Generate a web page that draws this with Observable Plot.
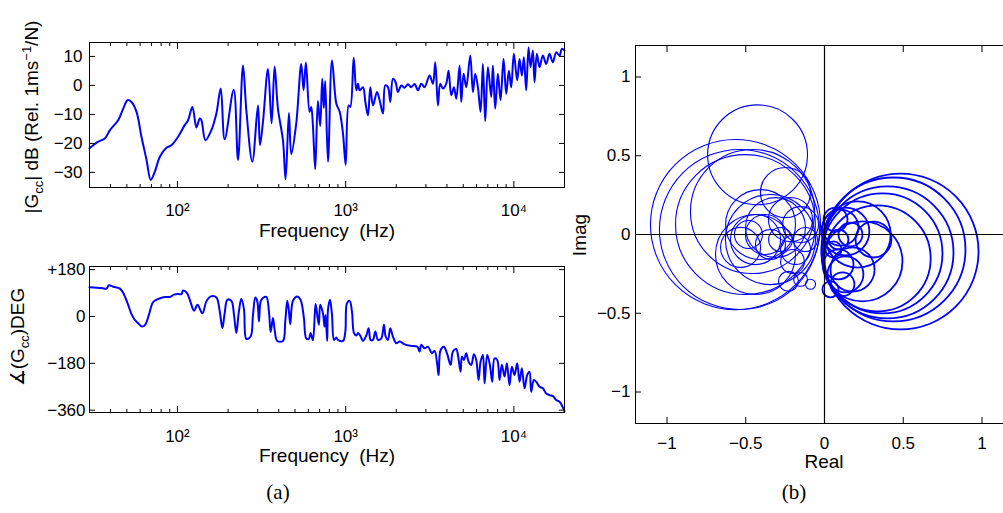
<!DOCTYPE html>
<html><head><meta charset="utf-8">
<script src="https://cdn.jsdelivr.net/npm/d3@7"></script>
<script src="https://cdn.jsdelivr.net/npm/@observablehq/plot@0.6"></script>
<style>
html,body{margin:0;padding:0;background:#fff;}
#wrap{position:relative;width:1003px;height:513px;overflow:hidden;font-family:"Liberation Sans",Arial,sans-serif;}
#wrap svg{position:absolute;overflow:visible;}
</style></head><body><div id="wrap"></div><script>
// ---------- DATA ----------
const magFreq = [30,33.8,37,39.7,44.4,47.6,50.5,53.3,57.1,61.1,65.5,69.4,73.4,78.6,86,92.1,100.9,110.5,115.7,122.7,
  129.7,135.7,138.8,146.7,159.2,170.4,180.8,190.9,216,229.1,245.3,256.8,278.7,301.1,309.5,322.4,345.3,362.9,378.1,395.7,
  423.8,439.5,460,475,508.4,544.4,562,580.2,610.1,624.2,638.6,659.2,683.7,705.9,725.4,742.1,755.7,785.2,829.4,880.4,
  921.4,964.2,1000,1042,1066,1116,1157,1184,1211,1268,1309,1358,1401,1454,1536,1592,1667,1720,1784,1842,
  1910,1982,2046,2142,2240,2346,2450,2570,2690,2815,2946,3155,3303,3410,3537,3651,3786,3963,4092,4243,
  4402,4545,4757,4866,5024,5211,5504,5708,5893,6112,6339,6545,6757,7008,7335,7504,7747,8035,8333,8681,
  9005,9340,9643,10000,10466,10807,11157,11468,11838,12223,12562,12970,13270,13700,14210,14870,15560,16290,17050,17850,
  18680,19280,20000];
const magDb = [-21.7,-19.4,-18.3,-15.4,-12,-8,-5.1,-5.7,-9.1,-17.7,-25.7,-32.6,-29.7,-24.6,-21.5,-20.6,-17.7,-13.7,-12,-7.4,
  -14.5,-11.4,-12,-18.9,-15.4,-9.7,-1.1,-18.6,-1.5,-25.7,6.9,-8.6,-26.3,-6.9,-20.6,-12.6,5.7,-13.1,6.5,-8,
  -18.9,-32.3,-9.5,-23.7,-13.1,7.4,-1.7,7.9,-9.1,-7.4,-13.7,-28.9,-5.4,-14,2.3,-7.8,1.5,-26.3,8.6,-6.3,
  -9.1,-16.6,-27.4,-6.9,-7.4,9.5,-1.7,0.6,-1.7,-0.6,-5.7,-10.3,-0.6,-6.9,-2.3,-5.1,-9.7,0,-0.6,-5.7,
  2.3,1.1,-2.3,0,-0.8,0.4,-0.6,0.5,-1.7,0.6,-0.6,3.4,0.6,8,-6.9,0.6,-1.1,0.6,5.1,-3.4,
  -0.6,-4.6,6.9,-5.7,4,-0.6,10.3,-2.3,4,-0.6,-9.1,7.4,-12.3,6.3,-4,6.9,-8,4,-5.1,9.1,
  -2.9,5.1,-0.6,10.9,1.7,9.1,3.4,9.7,-1.7,13.1,6.3,12,1.1,10.9,6.3,10.3,7.4,10.9,8,11.4,
  10.3,12.6,12];

const phFreq = [30,35.4,37.9,39.1,41.5,45.5,47.6,50.5,53.3,55.8,58.4,61.7,64.6,67.6,71.7,76.8,84.1,90,95.5,100.9,
  105.6,108.1,114.1,118.4,125.6,131.5,140.7,148.6,157.7,170.4,178.4,185,190.9,198,209.2,216.9,224,231.2,239.8,248.7,
  256.8,272.4,281.2,290.4,298.4,305.3,312.4,322.4,337.5,349.9,358,369.6,378.1,392.2,423.8,437.5,449.7,460,468.5,485.9,
  515.4,539.4,564.6,583,604.6,618.5,638.6,662.3,677.6,693.2,705.9,732.2,749,759.2,776.7,785.2,807,829.4,852.5,880.4,
  900.6,964.2,995.5,1018,1056,1090,1121,1157,1184,1228,1268,1327,1369,1407,1454,1501,1556,1629,1689,1728,
  1784,1842,1910,2000,2094,2241,2455,2666,2752,2815,2946,3084,3258,3379,3505,3569,3668,3839,4018,4206,
  4342,4545,4650,4822,4911,5047,5211,5380,5580,5787,5975,6169,6339,6545,6695,6945,7203,7436,7676,7962,
  8222,8487,8803,9087,9425,9730,10092,10466,10807,11157,11570,12000,12390,12677,13150,13580,14210,14870,15560,16290,
  17050,17850,18680,19280,20000];
const phDeg = [112,109,107,120,114,107,90,51,9,-13,-26,-39,-30,6,55,67,75,75,84,86,
  86,100,90,64,22,45,12,58,77,73,19,-45,13,64,60,6,-64,13,68,26,
  -86,-77,6,73,58,-19,58,71,75,19,-60,-6,-51,-94,-94,-19,60,19,-30,60,
  77,64,-6,-84,-86,-64,-91,48,6,-32,45,13,-39,6,-94,26,64,6,-90,-81,
  -90,-94,-58,51,60,19,-64,-73,-64,-77,-94,-73,-45,-90,-90,-58,-90,-84,-32,-77,
  -90,-45,-77,-103,-96,-107,-113,-116,-135,-109,-122,-116,-141,-132,-186,-225,-129,-116,-145,-186,
  -135,-125,-148,-212,-154,-167,-141,-174,-186,-145,-167,-244,-174,-148,-257,-148,-186,-251,-161,-167,
  -244,-186,-231,-180,-264,-193,-225,-180,-251,-199,-276,-225,-212,-289,-244,-251,-270,-276,-296,-302,
  -306,-321,-328,-341,-364];

// Nyquist loops: centre (Real, Imag) and radius
const thinRe  = [-0.425,-0.565,-0.540,-0.502,-0.457,-0.343,-0.438,-0.375,-0.343,-0.311,-0.406,-0.279,-0.216,-0.248,-0.152,-0.483,-0.533,-0.184,-0.229,-0.152,-0.089,-0.121,-0.203,-0.438];
const thinIm  = [0.506,0.063,0.032,0.063,0.146,-0.032,-0.032,0,-0.063,0.044,0.063,-0.032,0.095,0.266,0.063,0,-0.082,-0.095,-0.297,-0.285,-0.316,-0.032,-0.171,-0.127];
const thinR   = [0.317,0.540,0.508,0.444,0.394,0.286,0.159,0.127,0.095,0.190,0.222,0.076,0.140,0.159,0.114,0.089,0.127,0.095,0.063,0.044,0.032,0.076,0.076,0.254];
const thickRe = [0.483,0.438,0.400,0.368,0.337,0.210,0.241,0.311,0.070,0.102,0.089,0.133,0.165,0.089,0.133,0.114,0.178,0.038,0.057];
const thickIm = [-0.108,-0.095,-0.114,-0.120,-0.152,0,-0.171,-0.032,0.095,0.044,-0.032,0.019,0,-0.190,-0.253,-0.316,-0.222,-0.348,-0.095];
const thickR  = [0.495,0.457,0.419,0.381,0.337,0.210,0.254,0.114,0.076,0.114,0.063,0.152,0.076,0.095,0.114,0.076,0.140,0.051,0.051];

// ticks
const freqTicks = [100, 1000, 10000];
const freqTickLabels = ["10²", "10³", "10⁴"];
const freqMinor = [40,50,60,70,80,90,200,300,400,500,600,700,800,900,2000,3000,4000,5000,6000,7000,8000,9000];
const magTicks = [10, 0, -10, -20, -30];
const magTickLabels = ["10", "0", "−10", "−20", "−30"];
const phTicks = [180, 0, -180, -360];
const phTickLabels = ["+180", "0", "−180", "−360"];
const nyqTicks = [-1, -0.5, 0, 0.5, 1];
const nyqTickLabels = ["−1", "−0.5", "0", "0.5", "1"];

// ---------- HELPERS ----------
const BLUE = "#0000ff";
const none = () => null;
const lab = (ticks, labels) => { const m = new Map(ticks.map((t, i) => [t, labels[i]])); return d => m.get(d) ?? ""; };
function boxAxes({xTicks, xLabels, xMinor, xPad, yTicks, yLabels, yPad, major = 6, minor = 3}) {
  const m = [
    Plot.axisX({anchor: "bottom", ticks: xTicks, tickSize: 0, tickPadding: xPad, tickFormat: lab(xTicks, xLabels), label: null}),
    Plot.axisY({anchor: "left", ticks: yTicks, tickSize: 0, tickPadding: yPad, tickFormat: lab(yTicks, yLabels), label: null})
  ];
  for (const a of ["bottom", "top"]) {
    m.push(Plot.axisX({anchor: a, ticks: xTicks, tickSize: -major, tickFormat: none, label: null}));
    if (xMinor) m.push(Plot.axisX({anchor: a, ticks: xMinor, tickSize: -minor, tickFormat: none, label: null}));
  }
  for (const a of ["left", "right"]) m.push(Plot.axisY({anchor: a, ticks: yTicks, tickSize: -major, tickFormat: none, label: null}));
  return m;
}
const baseStyle = {fontFamily: "Liberation Sans, Arial, sans-serif", fontSize: "17px", color: "#000", background: "transparent", overflow: "visible"};
const wrap = document.getElementById("wrap");
function place(svg, left, top) { svg.style.left = left + "px"; svg.style.top = top + "px"; wrap.appendChild(svg); }

// ---------- (a) magnitude ----------
const mag = magFreq.map((f, i) => ({f, v: magDb[i]}));
place(Plot.plot({
  width: 580, height: 250,
  marginLeft: 89, marginRight: 16, marginTop: 42, marginBottom: 63,
  x: {type: "log", domain: [30, 20000]},
  y: {domain: [-35.2, 14.8]},
  style: baseStyle,
  marks: [
    Plot.line(mag, {x: "f", y: "v", stroke: BLUE, strokeWidth: 2, curve: "catmull-rom"}),
    Plot.frame({stroke: "#000", strokeWidth: 1}),
    ...boxAxes({xTicks: freqTicks, xLabels: freqTickLabels, xMinor: freqMinor, xPad: 16, yTicks: magTicks, yLabels: magTickLabels, yPad: 7})
  ]
}), 0, 0);

// ---------- (a) phase ----------
const ph = phFreq.map((f, i) => ({f, v: phDeg[i]}));
place(Plot.plot({
  width: 580, height: 230,
  marginLeft: 89, marginRight: 16, marginTop: 16, marginBottom: 68,
  x: {type: "log", domain: [30, 20000]},
  y: {domain: [-369, 192]},
  style: baseStyle,
  marks: [
    Plot.line(ph, {x: "f", y: "v", stroke: BLUE, strokeWidth: 2, curve: "catmull-rom"}),
    Plot.frame({stroke: "#000", strokeWidth: 1}),
    ...boxAxes({xTicks: freqTicks, xLabels: freqTickLabels, xMinor: freqMinor, xPad: 17, yTicks: phTicks, yLabels: phTickLabels, yPad: 4})
  ]
}), 0, 250);

// ---------- (b) Nyquist ----------
const thin = thinRe.map((re, i) => ({re, im: thinIm[i], r: thinR[i]}));
const thick = thickRe.map((re, i) => ({re, im: thickIm[i], r: thickR[i]}));
const nW = 470, nH = 513, nML = 75, nMR = 17, nMT = 45, nMB = 90;
const pxPerUnit = (nW - nML - nMR) / 2.4;
place(Plot.plot({
  width: nW, height: nH,
  marginLeft: nML, marginRight: nMR, marginTop: nMT, marginBottom: nMB,
  x: {domain: [-1.2, 1.2]},
  y: {domain: [-1.2, 1.2]},
  r: {type: "linear", domain: [0, 1], range: [0, pxPerUnit]},
  style: baseStyle,
  marks: [
    Plot.dot(thin, {x: "re", y: "im", r: "r", stroke: BLUE, strokeWidth: 1.1, fill: "none"}),
    Plot.dot(thick, {x: "re", y: "im", r: "r", stroke: BLUE, strokeWidth: 1.8, fill: "none"}),
    Plot.ruleX([0], {stroke: "#000", strokeWidth: 1.2}),
    Plot.ruleY([0], {stroke: "#000", strokeWidth: 1.2}),
    Plot.frame({stroke: "#000", strokeWidth: 1}),
    ...boxAxes({xTicks: nyqTicks, xLabels: nyqTickLabels, xPad: 13, yTicks: nyqTicks, yLabels: nyqTickLabels, yPad: 5})
  ]
}), 560, 0);

// ---------- titles & captions ----------
const ov = d3.create("svg").attr("width", 1003).attr("height", 513)
  .style("left", "0px").style("top", "0px").style("pointer-events", "none")
  .attr("font-family", "Liberation Sans, Arial, sans-serif").attr("font-size", 19);
const t1 = ov.append("text").attr("transform", "translate(38,117) rotate(-90)").attr("text-anchor", "middle");
t1.append("tspan").text("|G");
t1.append("tspan").attr("dy", 5).attr("font-size", 13).text("cc");
t1.append("tspan").attr("dy", -5).text("| dB (Rel. 1ms");
t1.append("tspan").attr("dy", -7).attr("font-size", 13).text("−1");
t1.append("tspan").attr("dy", 7).text("/N)");
const t2 = ov.append("text").attr("transform", "translate(24,337) rotate(-90)").attr("text-anchor", "middle");
t2.append("tspan").text("∡(G");
t2.append("tspan").attr("dy", 5).attr("font-size", 13).text("cc");
t2.append("tspan").attr("dy", -5).text(")DEG");
ov.append("text").attr("x", 327).attr("y", 237).attr("text-anchor", "middle").style("white-space", "pre").text("Frequency  (Hz)");
ov.append("text").attr("x", 327).attr("y", 462).attr("text-anchor", "middle").style("white-space", "pre").text("Frequency  (Hz)");
ov.append("text").attr("transform", "translate(586,235) rotate(-90)").attr("text-anchor", "middle").text("Imag");
ov.append("text").attr("x", 824).attr("y", 468).attr("text-anchor", "middle").text("Real");
ov.append("text").attr("x", 278).attr("y", 499).attr("text-anchor", "middle").attr("font-family", "Liberation Serif, serif").attr("font-size", 21).text("(a)");
ov.append("text").attr("x", 794).attr("y", 499).attr("text-anchor", "middle").attr("font-family", "Liberation Serif, serif").attr("font-size", 21).text("(b)");
wrap.appendChild(ov.node());
</script></body></html>
